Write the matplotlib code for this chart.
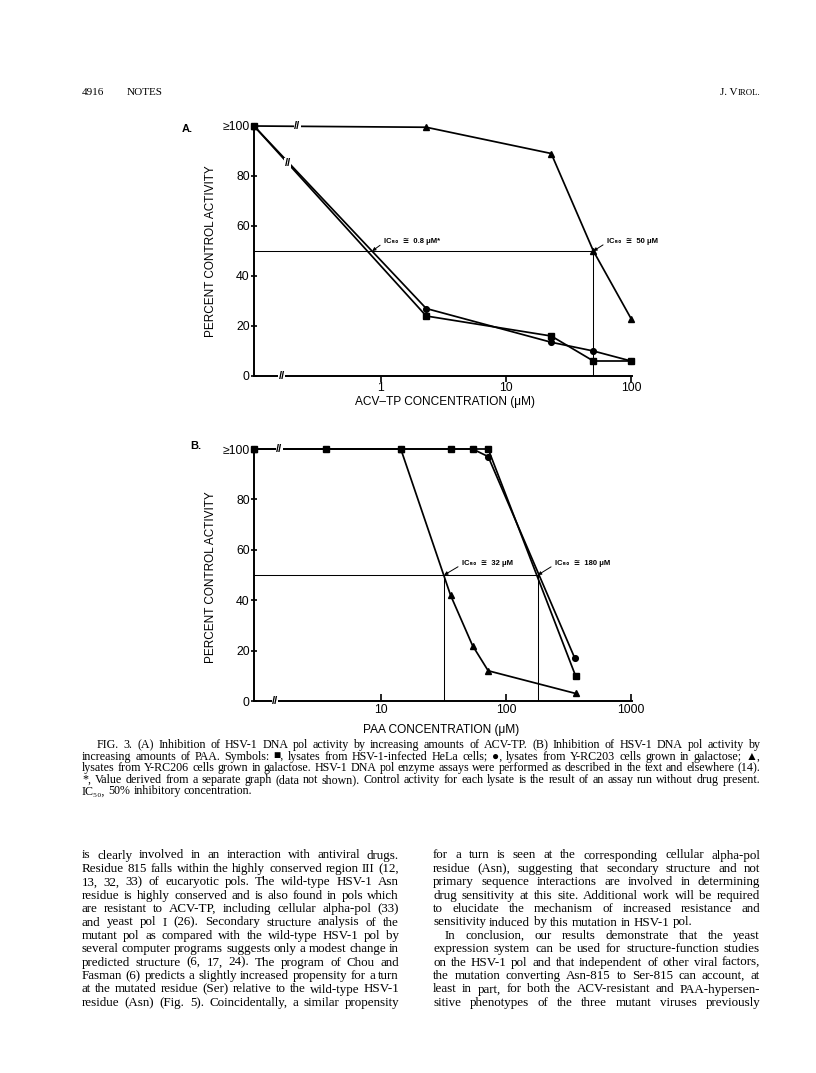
import numpy as np
import matplotlib
matplotlib.use('Agg')
import matplotlib.pyplot as plt
from matplotlib.ticker import NullLocator

# Panel A: ACV-TP (uM), 0 = control (no drug, drawn at the axis origin)
acv_conc = [0, 2.3, 23, 50, 100]
acv_sq = [100, 24, 16, 6, 6]        # HSV-1 infected HeLa
acv_ci = [100, 27, 13.5, 10, 6]     # Y-RC203
acv_tr = [100, 99.5, 89, 50, 23]    # Y-RC206
acv_ic50 = [0.85, 50]

# Panel B: PAA (uM)
paa_conc_sq = [0, 3.6, 14.4, 36, 54, 72, 360]
paa_sq = [100, 100, 100, 100, 100, 100, 10]
paa_conc_ci = [0, 14.4, 54, 72, 355]
paa_ci = [100, 100, 100, 97, 17]
paa_conc_tr = [0, 14.4, 36, 54, 72, 360]
paa_tr = [100, 100, 42, 22, 12, 3]
paa_ic50 = [32, 180]

y_ticks = [0, 20, 40, 60, 80, 100]
y_labels = ['0', '20', '40', '60', '80', '\u2265100']

caption = [
    "FIG. 3. (A) Inhibition of HSV-1 DNA pol activity by increasing amounts of ACV-TP. (B) Inhibition of HSV-1 DNA pol activity by",
    "increasing amounts of PAA. Symbols: \u25a0, lysates from HSV-1-infected HeLa cells; \u25cf, lysates from Y-RC203 cells grown in galactose; \u25b2,",
    "lysates from Y-RC206 cells grown in galactose. HSV-1 DNA pol enzyme assays were performed as described in the text and elsewhere (14).",
    "*, Value derived from a separate graph (data not shown). Control activity for each lysate is the result of an assay run without drug present.",
    "IC\u2085\u2080, 50% inhibitory concentration.",
]
left_col = [
    "is clearly involved in an interaction with antiviral drugs.",
    "Residue 815 falls within the highly conserved region III (12,",
    "13, 32, 33) of eucaryotic pols. The wild-type HSV-1 Asn",
    "residue is highly conserved and is also found in pols which",
    "are resistant to ACV-TP, including cellular alpha-pol (33)",
    "and yeast pol I (26). Secondary structure analysis of the",
    "mutant pol as compared with the wild-type HSV-1 pol by",
    "several computer programs suggests only a modest change in",
    "predicted structure (6, 17, 24). The program of Chou and",
    "Fasman (6) predicts a slightly increased propensity for a turn",
    "at the mutated residue (Ser) relative to the wild-type HSV-1",
    "residue (Asn) (Fig. 5). Coincidentally, a similar propensity",
]
right_col = [
    "for a turn is seen at the corresponding cellular alpha-pol",
    "residue (Asn), suggesting that secondary structure and not",
    "primary sequence interactions are involved in determining",
    "drug sensitivity at this site. Additional work will be required",
    "to elucidate the mechanism of increased resistance and",
    "sensitivity induced by this mutation in HSV-1 pol.",
    "In conclusion, our results demonstrate that the yeast",
    "expression system can be used for structure-function studies",
    "on the HSV-1 pol and that independent of other viral factors,",
    "the mutation converting Asn-815 to Ser-815 can account, at",
    "least in part, for both the ACV-resistant and PAA-hypersen-",
    "sitive phenotypes of the three mutant viruses previously",
]

W, H = 816, 1073
fig = plt.figure(figsize=(W / 100, H / 100), dpi=100)
renderer = fig.canvas.get_renderer()
sans = ['Liberation Sans', 'DejaVu Sans']
serif = ['Liberation Serif', 'DejaVu Serif']


def fx(px):
    return px / W


def fy(py):
    return 1 - py / H


def measure(s, size, family=serif):
    t = fig.text(0, 0, s, fontsize=size, family=family)
    w = t.get_window_extent(renderer).width
    t.remove()
    return w


def put_line(s, x0, x1, y, size, just=True):
    words = s.split()
    widths = [measure(w, size) for w in words]
    if just and len(words) > 1:
        gap = (x1 - x0 - sum(widths)) / (len(words) - 1)
    else:
        gap = measure('a a', size) - measure('aa', size)
    x = x0
    for w, wd in zip(words, widths):
        fig.text(fx(x), fy(y), w, fontsize=size, family=serif, va='baseline')
        x += wd + gap


def fit_size(lines, width):
    return min(10 * width / measure(l, 10) for l in lines)


def panel(rect_px, dec0_px, dec0, x_ticks):
    left, right, top, bottom = rect_px
    ax = fig.add_axes([fx(left), fy(bottom), (right - left) / W, (bottom - top) / H])
    ax.set_xscale('log')
    ax.set_xlim(dec0 * 10 ** ((left - dec0_px) / 125), dec0 * 10 ** ((right - dec0_px) / 125))
    ax.set_ylim(0, 100)
    for s in ['top', 'right']:
        ax.spines[s].set_visible(False)
    for s in ['left', 'bottom']:
        ax.spines[s].set_linewidth(1.4)
    ax.set_xticks(x_ticks)
    ax.set_xticklabels([str(t) for t in x_ticks])
    ax.xaxis.set_minor_locator(NullLocator())
    ax.set_yticks(y_ticks)
    ax.set_yticklabels(y_labels)
    ax.tick_params(labelsize=8.8, width=1.2)
    ax.tick_params(axis='y', direction='inout', length=5, pad=0.5)
    for lab in ax.get_xticklabels() + ax.get_yticklabels():
        lab.set_family(sans)
    return ax


def series(ax, xs, ys, marker, ms):
    x0 = ax.get_xlim()[0]
    xs = [x0 if v == 0 else v for v in xs]
    ax.plot(xs, ys, color='black', lw=1.25, marker=marker, ms=ms, clip_on=False, zorder=3)


def brk(ax, x, y):
    ax.text(x, y, '//', ha='center', va='center', fontsize=8, fontweight='bold',
            family=sans, bbox=dict(fc='white', ec='none', pad=0.2), zorder=5, clip_on=False)


def ic_note(ax, txt, xy, tx, ty):
    ax.annotate(txt, xy=xy, xytext=(tx, H - ty), textcoords='figure pixels',
                fontsize=5.5, fontweight='bold', family=sans, ha='left', va='center',
                arrowprops=dict(arrowstyle='-|>', lw=0.7, color='black', mutation_scale=5,
                                shrinkA=1, shrinkB=0, relpos=(0, 0.3)), zorder=6)


# ---- panel A
axA = panel((254, 632, 126, 376), 381, 1, [1, 10, 100])
axA.tick_params(axis='x', direction='out', length=4, pad=0)
x0 = axA.get_xlim()[0]
axA.plot([x0, acv_ic50[1]], [50, 50], color='black', lw=0.75, zorder=2)
axA.plot([acv_ic50[1], acv_ic50[1]], [0, 50], color='black', lw=0.75, zorder=2)
series(axA, acv_conc, acv_tr, '^', 4.6)
series(axA, acv_conc, acv_ci, 'o', 4.1)
series(axA, acv_conc, acv_sq, 's', 4.2)
brk(axA, 0.161, 0)
brk(axA, 0.213, 100)
brk(axA, 0.18, 85)
ic_note(axA, 'IC\u2085\u2080  \u2245  0.8 \u03bcM*', (acv_ic50[0], 50), 384, 241)
ic_note(axA, 'IC\u2085\u2080  \u2245  50 \u03bcM', (acv_ic50[1], 50), 607, 241)
fig.text(fx(182), fy(129), 'A.', fontsize=8, fontweight='bold', family=sans, va='center')
fig.text(fx(211), fy(251), 'PERCENT CONTROL ACTIVITY', rotation=90, fontsize=8.5,
         family=sans, ha='center', va='center')
fig.text(fx(445), fy(402), 'ACV\u2013TP CONCENTRATION (\u03bcM)', fontsize=8.6,
         family=sans, ha='center', va='center')

# ---- panel B
axB = panel((254, 632, 449, 701), 381, 10, [10, 100, 1000])
axB.tick_params(axis='x', direction='in', length=5, pad=2)
x0 = axB.get_xlim()[0]
axB.plot([x0, paa_ic50[1]], [50, 50], color='black', lw=0.75, zorder=2)
for v in paa_ic50:
    axB.plot([v, v], [0, 50], color='black', lw=0.75, zorder=2)
series(axB, paa_conc_tr, paa_tr, '^', 4.6)
series(axB, paa_conc_ci, paa_ci, 'o', 4.1)
series(axB, paa_conc_sq, paa_sq, 's', 4.2)
brk(axB, 1.42, 0)
brk(axB, 1.53, 100)
ic_note(axB, 'IC\u2085\u2080  \u2245  32 \u03bcM', (paa_ic50[0], 50), 462, 563)
ic_note(axB, 'IC\u2085\u2080  \u2245  180 \u03bcM', (paa_ic50[1], 50), 555, 563)
fig.text(fx(190), fy(446), 'B.', fontsize=8, fontweight='bold', family=sans, va='center')
fig.text(fx(211), fy(577), 'PERCENT CONTROL ACTIVITY', rotation=90, fontsize=8.5,
         family=sans, ha='center', va='center')
fig.text(fx(441), fy(730), 'PAA CONCENTRATION (\u03bcM)', fontsize=8.6,
         family=sans, ha='center', va='center')

# ---- page header
fig.text(fx(82), fy(95), '4916', fontsize=8, family=serif, va='baseline')
fig.text(fx(127), fy(95), 'NOTES', fontsize=8, family=serif, va='baseline')
w_sc = measure('IROL.', 6.3)
fig.text(fx(760), fy(95), 'IROL.', fontsize=6.3, family=serif, va='baseline', ha='right')
fig.text(fx(760 - w_sc), fy(95), 'J. V', fontsize=8, family=serif, va='baseline', ha='right')

# ---- caption
cap_size = fit_size(caption[1:4], 760 - 82)
for i, line in enumerate(caption):
    x_start = 97 if i == 0 else 82
    put_line(line, x_start, 760, 748 + 11.6 * i, cap_size, just=(i < 4))

# ---- body text, two columns
body_size = fit_size(left_col, 399 - 82)
for i, line in enumerate(left_col):
    put_line(line, 82, 399, 858.5 + 13.4 * i, body_size)
for i, line in enumerate(right_col):
    x_start = 445 if i == 6 else 433
    put_line(line, x_start, 760, 858.5 + 13.4 * i, body_size, just=(i != 5))

fig.savefig('out.png', dpi=100)
